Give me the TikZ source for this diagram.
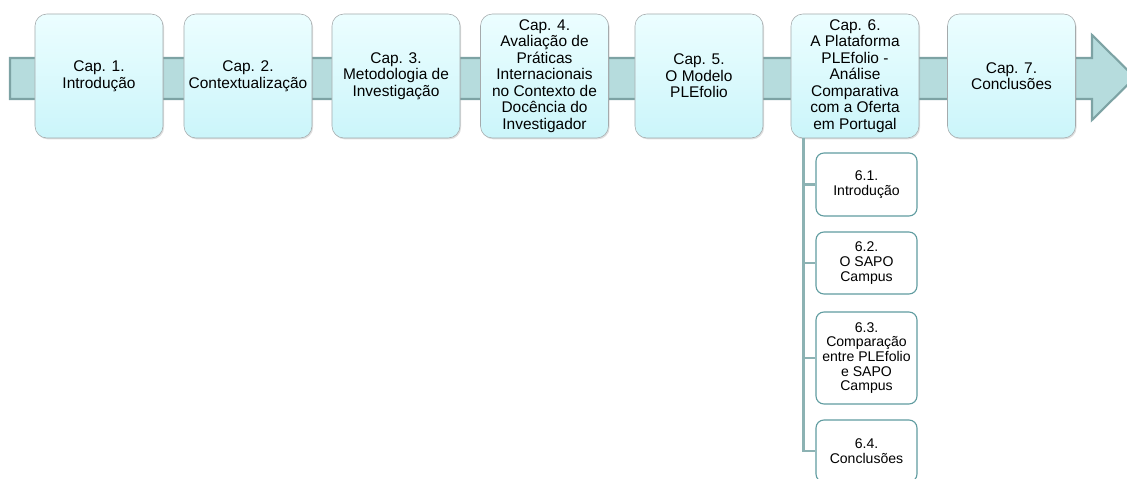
\documentclass[tikz,border=0pt]{standalone}
\usepackage{fontspec}
\setmainfont{Liberation Sans}
\usetikzlibrary{positioning,shadows}
\usepackage{xcolor}
\definecolor{bandfill}{RGB}{182,220,221}
\definecolor{banddraw}{RGB}{125,163,164}
\definecolor{boxtop}{RGB}{236,254,255}
\definecolor{boxbottom}{RGB}{203,245,250}
\definecolor{boxline}{RGB}{165,170,172}
\definecolor{subline}{RGB}{96,156,160}
\definecolor{treeline}{RGB}{140,178,179}

\tikzset{
    chapbox/.style={draw=boxline, rounded corners=0.3cm, top color=boxtop, bottom color=boxbottom,
        minimum width=3.2cm, minimum height=3.1cm, align=center, inner sep=1pt,
        font=\fontsize{11}{11.8}\selectfont,
        drop shadow={opacity=0.25, shadow xshift=0.8pt, shadow yshift=-1pt}},
    subbox/.style={draw=subline, thick, rounded corners=0.2cm, fill=white,
        minimum width=2.525cm, align=center, inner sep=1pt,
        font=\fontsize{10}{10.4}\selectfont},
    tree/.style={draw=treeline, line width=2pt}
}

\begin{document}
\begin{tikzpicture}[x=0.025cm, y=-0.025cm]
    \useasboundingbox (0,0) rectangle (1127,479);
    \clip (0,0) rectangle (1127,479);

    % timeline band
    \draw[fill=bandfill, draw=banddraw, line width=1.5pt, line join=miter]
        (10,58) -- (1092,58) -- (1092,35) -- (1135,77.5) -- (1092,120) -- (1092,99) -- (10,99) -- cycle;

    % chapters
    \node[chapbox] (cap1) at (99,76) {Cap. 1.\\Introdução};
    \node[chapbox] (cap2) at (248,76) {Cap. 2.\\Contextualização};
    \node[chapbox] (cap3) at (396,76) {Cap. 3.\\Metodologia de\\Investigação};
    \node[chapbox] (cap4) at (544.5,76) {Cap. 4.\\Avaliação de\\Práticas\\Internacionais\\no Contexto de\\Docência do\\Investigador};
    \node[chapbox] (cap5) at (699,76) {Cap. 5.\\O Modelo\\PLEfolio};
    \node[chapbox] (cap6) at (855,76) {Cap. 6.\\A Plataforma\\PLEfolio -\\Análise\\Comparativa\\com a Oferta\\em Portugal};
    \node[chapbox] (cap7) at (1011.5,76) {Cap. 7.\\Conclusões};

    % sections of chapter 6
    \node[subbox, minimum height=1.575cm] (sub1) at (866.5,184.5) {6.1.\\Introdução};
    \node[subbox, minimum height=1.55cm] (sub2) at (866.5,263) {6.2.\\O SAPO\\Campus};
    \node[subbox, minimum height=2.3cm] (sub3) at (866.5,358) {6.3.\\Comparação\\entre PLEfolio\\e SAPO\\Campus};
    \node[subbox, minimum height=1.55cm] (sub4) at (866.5,451) {6.4.\\Conclusões};

    \coordinate (trunk) at ([xshift=0.325cm]cap6.south west);
    \draw[tree] (trunk) |- (sub4.west);
    \draw[tree] (trunk |- sub1.west) -- (sub1.west);
    \draw[tree] (trunk |- sub2.west) -- (sub2.west);
    \draw[tree] (trunk |- sub3.west) -- (sub3.west);
\end{tikzpicture}
\end{document}
